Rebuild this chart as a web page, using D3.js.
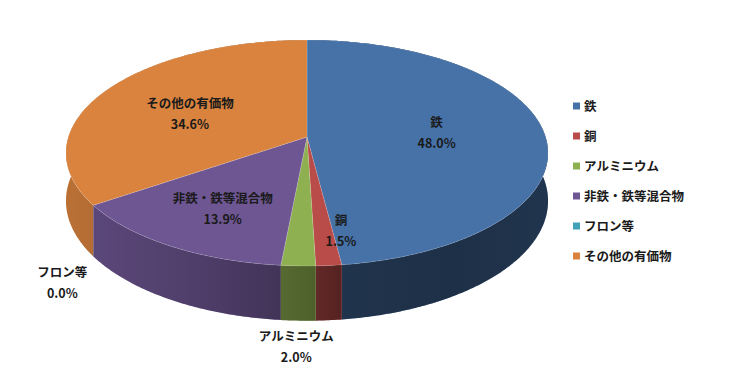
<!DOCTYPE html>
<meta charset="utf-8">
<title>有価物の内訳</title>
<style>
body { margin: 0; background: #fff; }
text { font-family: "Noto Sans CJK JP", "Noto Sans", sans-serif; font-weight: bold; fill: #1a1a1a; }
.lbl { font-size: 12.5px; }
.leg { font-size: 12.5px; }
</style>
<svg width="740" height="390"></svg>
<script src="https://d3js.org/d3.v7.min.js"></script>
<script>

// data
var names  = ["鉄", "銅", "アルミニウム", "非鉄・鉄等混合物", "フロン等", "その他の有価物"];
var shares = [48.0, 1.5, 2.0, 13.9, 0.0, 34.6];
var colors = ["#4672a8", "#b94b48", "#8fb050", "#6e5693", "#42a2b8", "#d9833e"];

// label placement: radius fraction along mid angle, on bottom rim or not, nudge
var labelLayout = [
  {r: 0.547, drop: false, dx: 0,   dy: 0},
  {r: 0.76,  drop: false, dx: 18,  dy: 0},
  {r: 1,     drop: true,  dx: -2,  dy: 26},
  {r: 0.65,  drop: false, dx: 1,   dy: 5},
  {r: 1,     drop: true,  dx: -31, dy: 27},
  {r: 0.55,  drop: false, dx: -5,  dy: 4}
];

var svg = d3.select("svg");

// perspective ellipse
var cx = 307, cy = 137, W = 238.6, H = 110.7, persp = 0.1416, depth = 47;

function proj(a, r, drop) {
  var u = r * Math.sin(a), v = r * Math.cos(a);
  var w = 1 + persp * v;
  return [cx + W * u / w, cy - H * v / w + (drop ? depth / w : 0)];
}

var pie = d3.pie().sort(null).value(function(d) { return d; });
var arcs = pie(shares);

var line = d3.line();

var defs = svg.append("defs");
var shade = defs.append("linearGradient")
    .attr("id", "shade")
    .attr("gradientUnits", "userSpaceOnUse")
    .attr("x1", cx - W - 3).attr("x2", cx + W + 3)
    .attr("y1", 0).attr("y2", 0);
[[0, 0.14], [0.3, 0.3], [0.5, 0.44], [0.58, 0.55], [0.8, 0.58], [1, 0.54]].forEach(function(s) {
  shade.append("stop").attr("offset", s[0]).attr("stop-color", "#000").attr("stop-opacity", s[1]);
});

function rim(a0, a1, drop) {
  var n = Math.max(2, Math.ceil((a1 - a0) / 0.01));
  var pts = [];
  for (var i = 0; i <= n; i++) pts.push(proj(a0 + (a1 - a0) * i / n, 1, drop));
  return pts;
}

// side walls, farthest first
var sides = arcs.filter(function(d) { return d.endAngle > d.startAngle; })
  .slice()
  .sort(function(a, b) {
    return Math.cos((b.startAngle + b.endAngle) / 2) - Math.cos((a.startAngle + a.endAngle) / 2);
  });

var sideG = svg.append("g");
sides.forEach(function(d) {
  var pts = rim(d.startAngle, d.endAngle, false)
    .concat(rim(d.startAngle, d.endAngle, true).reverse());
  var p = line(pts) + "Z";
  sideG.append("path").attr("d", p).attr("fill", colors[d.index]);
  sideG.append("path").attr("d", p).attr("fill", "url(#shade)");
});

// top faces
var topG = svg.append("g");
arcs.forEach(function(d) {
  if (d.endAngle <= d.startAngle) return;
  var pts = [proj(0, 0, false)].concat(rim(d.startAngle, d.endAngle, false));
  topG.append("path")
    .attr("d", line(pts) + "Z")
    .attr("fill", colors[d.index])
    .attr("stroke", "rgba(255,255,255,0.25)")
    .attr("stroke-width", 0.6);
});

// data labels
var fmt = d3.format(".1f");
var labelG = svg.append("g");
arcs.forEach(function(d, i) {
  var L = labelLayout[i];
  var mid = (d.startAngle + d.endAngle) / 2;
  var p = proj(mid, L.r, L.drop);
  var x = p[0] + L.dx, y = p[1] + L.dy;
  var t = labelG.append("text").attr("class", "lbl").attr("text-anchor", "middle");
  t.append("tspan").attr("x", x).attr("y", y - 10.5).attr("dy", "0.35em").text(names[i]);
  t.append("tspan").attr("x", x).attr("y", y + 10.5).attr("dy", "0.35em").text(fmt(shares[i]) + "%");
});

// legend
var legY = d3.scalePoint().domain(names).range([106, 256]);
var leg = svg.append("g").selectAll("g")
  .data(names)
  .enter().append("g")
    .attr("transform", function(d) { return "translate(573," + legY(d) + ")"; });
leg.append("rect")
  .attr("x", 0).attr("y", -3.5)
  .attr("width", 7).attr("height", 7)
  .attr("fill", function(d, i) { return colors[i]; });
leg.append("text")
  .attr("class", "leg")
  .attr("x", 11).attr("dy", "0.36em")
  .text(function(d) { return d; });

</script>
